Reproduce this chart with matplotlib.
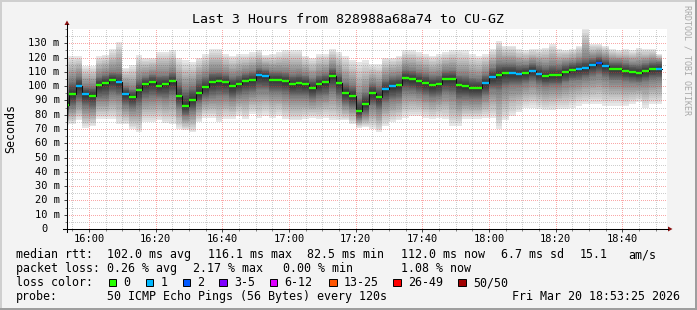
import numpy as np
import matplotlib
matplotlib.use('Agg')
import matplotlib.pyplot as plt
import matplotlib.transforms as mtransforms
from matplotlib.lines import Line2D
from matplotlib.patches import Rectangle, Polygon
from matplotlib.ticker import MultipleLocator, FixedLocator

W, H = 697, 310
MONO = 'DejaVu Sans Mono'

# 2-minute bins, first one starts 15:52 (minutes counted from 15:00)
first_bin = 52
bin_minutes = 2

median_ms = [87.1, 94.3, 99.9, 94.3, 93.4, 100.6, 102.0, 104.3, 102.7, 94.3,
             92.2, 97.3, 101.3, 102.7, 100.3, 101.3, 103.4, 92.9, 85.9, 90.1,
             95.0, 99.2, 102.7, 103.4, 102.7, 99.9, 101.3, 103.4, 104.3, 107.6,
             106.9, 104.3, 104.3, 103.4, 101.3, 102.0, 101.3, 98.5, 101.3, 102.7,
             106.9, 102.0, 95.0, 92.9, 82.5, 87.3, 95.0, 92.2, 97.8, 99.9,
             100.6, 105.5, 104.8, 103.4, 102.0, 100.6, 101.3, 104.8, 104.8, 100.6,
             99.9, 98.5, 98.5, 102.0, 106.2, 107.6, 109.0, 109.0, 108.3, 109.0,
             110.6, 108.3, 106.9, 107.6, 107.6, 109.7, 111.1, 111.7, 112.4, 114.5,
             116.1, 113.8, 111.7, 111.7, 110.4, 109.7, 109.0, 110.4, 111.7, 112.0]

lost_pings = [0, 0, 1, 1, 0, 0, 0, 0, 1, 1,
              0, 0, 0, 0, 0, 0, 0, 0, 0, 0,
              0, 0, 0, 0, 0, 0, 0, 0, 0, 1,
              1, 0, 0, 0, 0, 0, 0, 0, 0, 0,
              0, 0, 0, 0, 0, 0, 0, 0, 1, 1,
              0, 0, 0, 0, 0, 0, 0, 0, 0, 0,
              0, 0, 0, 1, 1, 0, 0, 1, 1, 0,
              1, 1, 0, 0, 0, 0, 0, 1, 1, 1,
              2, 1, 0, 0, 0, 0, 0, 0, 0, 1]

smoke_hi = [121, 121, 121, 114, 114, 121, 122, 126, 131, 113,
            115, 122, 120, 120, 124, 124, 125, 120, 118, 116.7,
            120, 122.5, 126, 126, 122.5, 121.3, 122.5, 122.5, 123.6, 125,
            122, 122.5, 123.6, 125, 125, 125, 121.3, 120, 122.5, 122.5,
            126, 123.6, 121.3, 118, 116.7, 118, 115.5, 115.5, 120, 120,
            121.3, 125, 125, 123.6, 122.5, 121.3, 122.5, 123.6, 125, 125,
            125, 122.5, 121.3, 122.5, 126, 131.8, 128.3, 128.3, 126, 125,
            126, 126, 127, 129.5, 126, 125.5, 126, 128.3, 141, 129.5,
            129.5, 128.3, 126, 125, 126, 125, 127, 126, 126, 122.5]

smoke_q75 = [98, 104, 107, 100, 100, 107, 108.5, 110, 110, 100,
             98, 105, 107, 108.5, 108, 108, 110, 102.7, 98, 100,
             105, 107, 110, 110, 109, 107, 108, 109.5, 110.5, 113,
             112, 110.5, 110.5, 110, 108.5, 109, 108, 105.5, 108, 109,
             113, 109, 103, 101, 92, 96, 102, 100, 105, 107,
             107.5, 112, 111.5, 110, 109, 107.5, 108, 111, 111.5, 108,
             107.5, 106, 105.5, 108.5, 113, 116, 116, 116, 115, 115,
             116.5, 115, 114, 115, 114.5, 116, 117, 118, 119.5, 120,
             121, 119.5, 117.5, 117.5, 116.5, 115.5, 115.5, 116.5, 117.5, 117.5]

smoke_q25 = [80, 85, 89, 85, 84, 91, 91, 94, 93, 86,
             84, 86, 91, 92, 92, 91, 93, 85, 79, 82,
             87.5, 91, 92, 93, 93, 91, 93, 94, 95, 97,
             97, 95, 95, 94, 92, 92, 92, 90, 92, 93,
             96, 92, 87, 85, 77, 80, 86, 83, 88, 90,
             91, 96, 95.5, 94.5, 93, 91.5, 92.5, 95, 94, 90,
             90.5, 90, 90, 93, 97, 96, 99, 100, 100, 101.5,
             103, 101, 99.5, 100, 100, 102, 103.5, 104, 105, 106.5,
             107.5, 106, 104, 104, 103, 102.5, 102, 103, 104.5, 105]

smoke_lo = [73, 73.5, 76, 71, 72, 77, 77, 77, 73.5, 73.5,
            70, 68, 75, 75, 76, 74, 73.5, 70, 69, 67.7,
            74.7, 78, 78, 74.7, 77, 77, 79.4, 77, 80.5, 78,
            79.4, 78, 79.4, 77, 76, 76, 77, 78, 77, 78,
            76, 76, 76, 73.5, 71, 71.5, 70, 67.7, 72.4, 74.7,
            76, 78, 79.4, 79.4, 78, 77, 78, 77, 72.4, 72.4,
            77, 77, 77, 78, 78, 70, 76, 79.4, 81.7, 85,
            85, 84, 83, 83, 84, 84, 85, 86.4, 87.5, 87.5,
            87.5, 86.4, 86.4, 86.4, 86.4, 87.5, 88.7, 85, 87.5, 87.5]

y_ticks = [0, 10, 20, 30, 40, 50, 60, 70, 80, 90, 100, 110, 120, 130]
x_tick_labels = ['16:00', '16:20', '16:40', '17:00', '17:20', '17:40', '18:00', '18:20', '18:40']

loss_labels = ['0', '1', '2', '3-5', '6-12', '13-25', '26-49', '50/50']
loss_colors = ['#26ff00', '#00b8ff', '#0059ff', '#7e00ff', '#dd00ff', '#ff5500', '#ff0000', '#a10000']

title = 'Last 3 Hours from 828988a68a74 to CU-GZ'
stats_rtt = ['102.0 ms avg', '116.1 ms max', '82.5 ms min', '112.0 ms now', '6.7 ms sd', '15.1', 'am/s']
stats_loss = ['0.26 % avg', '2.17 % max', '0.00 % min', '1.08 % now']
probe = '50 ICMP Echo Pings (56 Bytes) every 120s'
stamp = 'Fri Mar 20 18:53:25 2026'


def fx(x):
    return x / W


def fy(y):
    return 1 - y / H


# plot area in pixels
PL, PT, PW, PH = 67, 29, 600, 200
YMAX = 140

fig = plt.figure(figsize=(W / 100, H / 100), dpi=100, facecolor='#f3f3f3')
ax = fig.add_axes([fx(PL), fy(PT + PH), PW / W, PH / H])
ax.set_facecolor('white')
for s in ax.spines.values():
    s.set_visible(False)

med = np.array(median_ms)
hi = np.array(smoke_hi)
lo = np.array(smoke_lo)
q25 = np.array(smoke_q25)
q75 = np.array(smoke_q75)
edges = first_bin + bin_minutes * np.arange(len(med) + 1)
start = 53 + 25 / 60


def stepv(a):
    return np.append(a, a[-1])


def smoke_gray(d):
    # d: 0 at median rank, 1 at the extremes
    return (50 + 185 * d ** 1.25) / 255


# smoke: gray gets darker towards the median rank
bands = [(lo, q25, 1.0, 0.5), (q25, med, 0.5, 0.0), (med, q75, 0.0, 0.5), (q75, hi, 0.5, 1.0)]
nsub = 12
for a, b, da, db in bands:
    for k in range(nsub):
        y0 = a + (b - a) * k / nsub
        y1 = a + (b - a) * (k + 1) / nsub
        g = smoke_gray(da + (db - da) * (k + 0.5) / nsub)
        ax.fill_between(edges, stepv(y0), stepv(y1), step='post', color=(g, g, g),
                        lw=0, antialiased=False, zorder=1)

ax.step(edges, stepv(med), where='post', color='#101010', lw=0.75, zorder=3)
cols = [loss_colors[n] for n in lost_pings]
ax.hlines(med, edges[:-1], edges[1:], colors=cols, lw=1.7, zorder=4)

xt = [(int(t[:2]) - 15) * 60 + int(t[3:]) for t in x_tick_labels]

# dotted rrdtool style grid, one dot every other pixel
grid = np.zeros((PH, PW, 4))
minor_c = (0.35, 0.35, 0.35, 0.3)
major_c = (0.95, 0.15, 0.15, 0.4)
for v in range(5, YMAX, 5):
    r = int(round((YMAX - v) / YMAX * PH))
    if 0 <= r < PH:
        grid[r, ::2] = major_c if v % 10 == 0 else minor_c
for m in range(55, 235, 5):
    c = int(round((m - start) / 180 * PW))
    if 0 <= c < PW:
        grid[1::2, c] = major_c if m in xt else minor_c
ax.imshow(grid, extent=(start, start + 180, 0, YMAX), aspect='auto',
          interpolation='nearest', zorder=2)

ax.set_xlim(start, start + 180)
ax.set_ylim(0, YMAX)

ax.xaxis.set_major_locator(FixedLocator(xt))
ax.xaxis.set_minor_locator(MultipleLocator(5))
ax.set_xticklabels(x_tick_labels, fontsize=7.5, family=MONO)
ax.yaxis.set_major_locator(FixedLocator(y_ticks))
ax.yaxis.set_minor_locator(MultipleLocator(5))
ax.set_yticklabels([])
ax.tick_params(axis='both', which='major', length=2.5, width=0.7, color='#404040', pad=1)
ax.tick_params(axis='both', which='minor', length=1.5, width=0.7, color='#808080')
ax.tick_params(axis='y', which='both', labelleft=False)

tr = mtransforms.blended_transform_factory(fig.transFigure, ax.transData)
for v in y_ticks:
    if v:
        ax.text(fx(59.5), v, f'{v} m', transform=tr, ha='right', va='center',
                fontsize=7.5, family=MONO, clip_on=False)
    else:
        ax.text(fx(47.5), v, '0', transform=tr, ha='right', va='center',
                fontsize=7.5, family=MONO, clip_on=False)

# axes lines with arrow heads
y0px = PT + PH
fig.add_artist(Line2D([fx(63), fx(668)], [fy(y0px), fy(y0px)], color='black', lw=0.75))
fig.add_artist(Line2D([fx(PL), fx(PL)], [fy(y0px + 3), fy(24)], color='black', lw=0.75))
fig.add_artist(Polygon([(fx(668), fy(y0px - 2.5)), (fx(668), fy(y0px + 2.5)), (fx(672.5), fy(y0px))],
                       closed=True, color='#8b1010', lw=0))
fig.add_artist(Polygon([(fx(PL - 2.5), fy(25)), (fx(PL + 2.5), fy(25)), (fx(PL), fy(20.5))],
                       closed=True, color='#8b1010', lw=0))

# 3d frame
fig.add_artist(Rectangle((0, 0), 1, fy(308), transform=fig.transFigure, color='#9e9e9e', lw=0))
fig.add_artist(Rectangle((fx(695), 0), 1, 1, transform=fig.transFigure, color='#9e9e9e', lw=0))
fig.add_artist(Rectangle((0, fy(2)), fx(695), 1, transform=fig.transFigure, color='#cfcfcf', lw=0))
fig.add_artist(Rectangle((0, fy(308)), fx(2), 1, transform=fig.transFigure, color='#cfcfcf', lw=0))

fig.text(0.5, fy(23), title, ha='center', va='baseline', fontsize=9.5, family=MONO)
fig.text(fx(10.5), fy(128.5), 'Seconds', rotation=90, ha='center', va='center',
         fontsize=8.4, family=MONO)
fig.text(fx(687), fy(60), 'RRDTOOL / TOBI OETIKER', rotation=-90, ha='center', va='center',
         fontsize=6, family=MONO, color='#a8a8a8')

fs = 8.4
row1, row2, row3, row4 = 258.3, 272.3, 286, 300
fig.text(fx(16), fy(row1), 'median rtt:', va='baseline', fontsize=fs, family=MONO)
for s, x in zip(stats_rtt, [107.3, 208.3, 306.7, 400.7, 500.7, 579.3, 628.3]):
    fig.text(fx(x), fy(row1), s, va='baseline', fontsize=fs, family=MONO)
fig.text(fx(16), fy(row2), 'packet loss:', va='baseline', fontsize=fs, family=MONO)
for s, x in zip(stats_loss, [107.3, 192.7, 282.7, 400.7]):
    fig.text(fx(x), fy(row2), s, va='baseline', fontsize=fs, family=MONO)
fig.text(fx(16), fy(row3), 'loss color:', va='baseline', fontsize=fs, family=MONO)
box_x = [108.7, 145.7, 182.7, 219.3, 270, 329.3, 393.3, 458.3]
for lab, c, x in zip(loss_labels, loss_colors, box_x):
    fig.add_artist(Rectangle((fx(x), fy(286)), 7.3 / W, 7.3 / H, transform=fig.transFigure,
                             facecolor=c, edgecolor='black', lw=0.7))
    fig.text(fx(x + 14.5), fy(row3), lab, va='baseline', fontsize=fs, family=MONO)
fig.text(fx(16), fy(row4), 'probe:', va='baseline', fontsize=fs, family=MONO)
fig.text(fx(107.3), fy(row4), probe, va='baseline', fontsize=fs, family=MONO)
fig.text(fx(680), fy(row4), stamp, ha='right', va='baseline', fontsize=fs, family=MONO)

fig.savefig('out.png', dpi=100, facecolor=fig.get_facecolor())
